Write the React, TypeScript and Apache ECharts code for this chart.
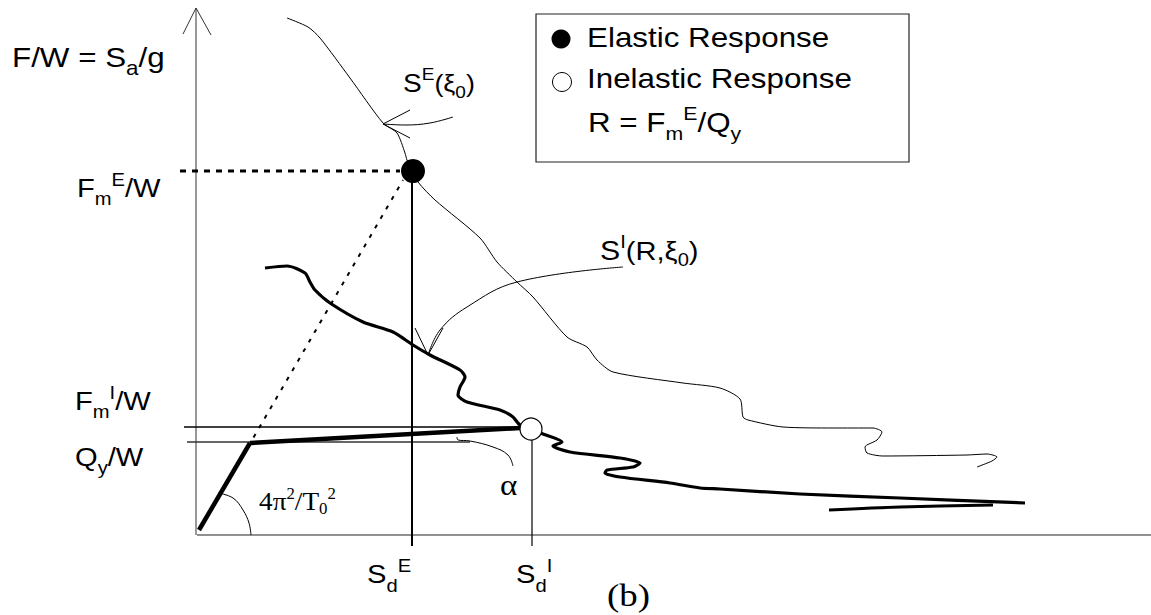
import React, { useEffect, useRef } from "react";
import * as echarts from "echarts";

// Diagram units: pixels measured from the origin of the drawn axes (x right, y up)
const X_MIN = -196;
const X_MAX = 955;
const Y_MIN = -80;
const Y_MAX = 535;

const yAxisLine = [[0, 0], [0, 527]];
const yAxisArrow = [[-13, 501], [0, 527], [15, 500]];
const xAxisLine = [[1, 0], [955, 0]];

// Elastic spectrum S^E(xi0)
const elasticSpectrum = [
  [91, 517], [112, 508], [124, 497], [154, 457], [187, 412], [201, 402], [209, 382],
  [211, 375], [217, 364], [222, 353], [239, 335], [284, 297], [301, 273], [321, 253],
  [337, 238], [371, 198], [391, 188], [401, 175], [417, 163], [487, 152], [524, 147],
  [544, 136], [547, 118], [552, 115], [587, 108], [637, 107], [677, 107], [686, 103],
  [681, 95], [669, 88], [671, 82], [687, 79], [771, 80], [791, 81], [801, 78],
  [796, 74], [781, 68],
];

// Inelastic spectrum S^I(R, xi0)
const inelasticSpectrum = [
  [69, 267], [91, 269], [109, 262], [114, 253], [119, 245], [134, 232], [167, 213],
  [197, 203], [217, 190], [234, 180], [264, 165], [269, 158], [264, 148], [262, 140],
  [271, 133], [304, 125], [317, 118], [324, 110], [347, 101], [366, 93], [357, 89],
  [374, 83], [424, 77], [444, 72], [437, 68], [411, 65], [409, 62], [424, 58],
  [474, 52], [504, 47], [524, 46], [604, 41], [704, 37], [829, 32],
];
const inelasticTail = [[633, 25], [704, 28], [797, 30]];

// Bilinear force-displacement
const elasticBranch = [[3, 5], [54, 92]];
const hardeningBranch = [[54, 92], [324, 107]];
const fmILevel = [[-12, 108], [324, 108]];
const qyLevel = [[-9, 93], [274, 93]];
const fmELevel = [[-16, 364], [204, 364]];
const elasticExtension = [[52, 88], [207, 355]];
const sdELine = [[216, 364], [216, -11]];
const sdILine = [[336, 95], [336, -11]];

// Annotation curves
const stiffnessArc = [[22, 42], [37, 37], [47, 25], [53, 12], [55, 0]];
const alphaLeader = [[261, 98], [262, 95], [274, 94], [297, 88], [312, 80], [317, 69]];
const seLeader = [[257, 418], [234, 412], [209, 410], [187, 411]];
const seArrowHead = [[214, 425], [187, 411], [214, 397]];
const siLeader = [[427, 268], [321, 253], [271, 228], [244, 205], [232, 180]];
const siArrowHead = [[219, 207], [232, 180], [247, 207]];

const elasticPoint = [[217, 364]];
const inelasticPoint = [[335, 106]];

const SANS = '"Liberation Sans", Arial, sans-serif';
const SERIF = '"Liberation Serif", "Times New Roman", serif';

type Part = [string, number, number];

let measureCtx: CanvasRenderingContext2D | null = null;
function textWidth(t: string, size: number, family: string) {
  if (!measureCtx) measureCtx = document.createElement("canvas").getContext("2d");
  if (!measureCtx) return t.length * size * 0.55;
  measureCtx.font = `${size}px ${family}`;
  return measureCtx.measureText(t).width;
}

function label(x: number, baseline: number, parts: Part[], family: string, scaleX: number, z = 10) {
  let cx = 0;
  const children: any[] = [];
  for (const [t, s, dy] of parts) {
    children.push({
      type: "text",
      x: cx,
      y: dy - 0.345 * s,
      z,
      style: {
        text: t,
        fontSize: s,
        fontFamily: family,
        fill: "#000",
        align: "left",
        verticalAlign: "middle",
      },
    });
    cx += textWidth(t, s, family);
  }
  return { type: "group", x, y: baseline, scaleX, children };
}

function line(data: number[][], width: number, extra: any = {}) {
  return {
    type: "line",
    data,
    symbol: "none",
    silent: true,
    smooth: extra.smooth ?? false,
    z: extra.z ?? 2,
    lineStyle: {
      color: extra.color ?? "#000",
      width,
      type: extra.type ?? "solid",
      cap: extra.cap ?? "butt",
      join: "round",
      opacity: 1,
    },
  };
}

export default function App() {
  const ref = useRef<HTMLDivElement>(null);
  useEffect(() => {
    if (!ref.current) return;
    const chart = echarts.init(ref.current, null, { renderer: "svg" });
    const SX = 1.12;
    const graphics: any[] = [
      // legend box
      {
        type: "rect",
        z: 1,
        shape: { x: 536, y: 14, width: 373, height: 148 },
        style: { fill: "#fff", stroke: "#222", lineWidth: 1.2 },
      },
      { type: "circle", z: 10, shape: { cx: 561, cy: 39, r: 9.5 }, style: { fill: "#000" } },
      {
        type: "circle",
        z: 10,
        shape: { cx: 562, cy: 82, r: 9.5 },
        style: { fill: "#fff", stroke: "#000", lineWidth: 1 },
      },
      label(587, 47, [["Elastic Response", 28, 0]], SANS, SX),
      label(587, 88, [["Inelastic Response", 28, 0]], SANS, SX),
      label(588, 132, [["R = F", 28, 0], ["m", 19, 8], ["E", 19, -12], ["/Q", 28, 0], ["y", 19, 8]], SANS, SX),
      // axis labels
      label(12, 67, [["F/W = S", 28, 0], ["a", 20, 8], ["/g", 28, 0]], SANS, SX),
      label(77, 197, [["F", 26, 0], ["m", 18, 8], ["E", 18, -11], ["/W", 26, 0]], SANS, SX),
      label(75, 410, [["F", 26, 0], ["m", 18, 8], ["I", 18, -11], ["/W", 26, 0]], SANS, SX),
      label(75, 466, [["Q", 26, 0], ["y", 18, 8], ["/W", 26, 0]], SANS, SX),
      label(367, 583, [["S", 26, 0], ["d", 18, 9], ["E", 18, -11]], SANS, SX),
      label(516, 583, [["S", 26, 0], ["d", 18, 9], ["I", 18, -11]], SANS, SX),
      label(607, 606, [["(b)", 32, 0]], SERIF, 1.15),
      label(259, 510, [["4π", 26, 0], ["2", 16, -11], ["/T", 26, 0], ["0", 16, 4], ["2", 16, -11]], SERIF, 1.05),
      label(500, 495, [["α", 30, 0]], SERIF, 1.1),
      label(403, 92, [["S", 25, 0], ["E", 17, -12], ["(ξ", 24, 0], ["0", 17, 6], [")", 24, 0]], SANS, SX),
      label(600, 260, [["S", 27, 0], ["I", 18, -12], ["(R,ξ", 26, 0], ["0", 18, 6], [")", 26, 0]], SANS, SX),
    ];

    chart.setOption({
      animation: false,
      backgroundColor: "#fff",
      grid: { left: 0, right: 0, top: 0, bottom: 0 },
      xAxis: { type: "value", min: X_MIN, max: X_MAX, show: false },
      yAxis: { type: "value", min: Y_MIN, max: Y_MAX, show: false },
      series: [
        line(yAxisLine, 1, { color: "#333" }),
        line(yAxisArrow, 1, { color: "#333" }),
        line(xAxisLine, 1.2, { color: "#222" }),
        line(fmILevel, 1.6),
        line(qyLevel, 1.6, { color: "#333" }),
        line(fmELevel, 3, { type: [6, 6] }),
        line(elasticExtension, 2, { type: [4, 7] }),
        line(sdELine, 2),
        line(sdILine, 1.2),
        line(elasticSpectrum, 1, { smooth: 0.25 }),
        line(inelasticSpectrum, 3.2, { smooth: 0.25 }),
        line(inelasticTail, 3, { smooth: 0.3 }),
        line(elasticBranch, 4.5, { z: 3 }),
        line(hardeningBranch, 4.5, { z: 3 }),
        line(stiffnessArc, 1, { smooth: 0.4 }),
        line(alphaLeader, 1, { smooth: 0.4 }),
        line(seLeader, 1, { smooth: 0.4 }),
        line(seArrowHead, 1),
        line(siLeader, 1, { smooth: 0.4 }),
        line(siArrowHead, 1),
        {
          type: "scatter",
          data: elasticPoint,
          symbol: "circle",
          symbolSize: 24,
          silent: true,
          z: 6,
          itemStyle: { color: "#000", opacity: 1 },
        },
        {
          type: "scatter",
          data: inelasticPoint,
          symbol: "circle",
          symbolSize: 22,
          silent: true,
          z: 6,
          itemStyle: { color: "#fff", borderColor: "#000", borderWidth: 1.2, opacity: 1 },
        },
      ],
      graphic: graphics,
    });
    return () => chart.dispose();
  }, []);
  return (
    <div
      ref={ref}
      style={{ position: "fixed", left: 0, top: 0, width: 1151, height: 615, background: "#fff" }}
    />
  );
}
